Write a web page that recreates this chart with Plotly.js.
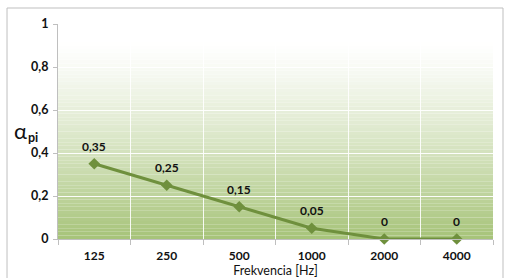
<!DOCTYPE html>
<html><head><meta charset="utf-8">
<script src="https://cdn.plot.ly/plotly-3.0.1.min.js"></script>
<style>html,body{margin:0;padding:0;background:#fff;}#c{width:505px;height:278px;}</style>
</head><body><div id="c"></div>
<script>
const categories = ['125','250','500','1000','2000','4000'];
const values = [0.35, 0.25, 0.15, 0.05, 0, 0];
const valueLabels = ['0,35','0,25','0,15','0,05','0','0'];

const FONT = 'Lato, "Open Sans", sans-serif';
const shapes = [];
const N = 60;
const bottom = [166,195,120];
for (let i = 0; i < N; i++) {
  const v0 = i / N, v1 = (i + 1) / N;
  let t = 1 - (v0 + v1) / 2;
  t = Math.max(0, (t - 0.08) / 0.92);
  t = Math.pow(t, 1.25);
  const c = [0,1,2].map(k => Math.round(255 + (bottom[k] - 255) * t));
  shapes.push({type:'rect', xref:'paper', yref:'y', x0:0, x1:1, y0:v0, y1:v1,
    fillcolor:`rgb(${c[0]},${c[1]},${c[2]})`, line:{width:0}, layer:'below'});
}
shapes.push({type:'rect', xref:'paper', yref:'paper', x0:-0.1172, x1:1.023, y0:-0.3, y1:1.0744,
  line:{color:'#bfbfbf', width:1}, fillcolor:'rgba(0,0,0,0)', layer:'above'});

const trace = {
  x: categories, y: values, type:'scatter', mode:'lines+markers',
  line:{color:'#6f903d', width:3},
  marker:{symbol:'diamond', size:9, color:'#6f903d'},
  cliponaxis:false, hoverinfo:'skip'
};

// category axis: annotations use the category index
const labelAnns = categories.map((c, i) => ({
  x: i, y: values[i], xref:'x', yref:'y', text: valueLabels[i], showarrow:false,
  yanchor:'bottom', yshift:8, font:{family:FONT, size:12, color:'#111', weight:'bold'}
}));

const layout = {
  width:505, height:278,
  margin:{l:58, r:12, t:24, b:39},
  paper_bgcolor:'#ffffff', plot_bgcolor:'rgba(0,0,0,0)',
  separators:', ',
  showlegend:false,
  font:{family:FONT, color:'#111'},
  xaxis:{type:'category', tickson:'boundaries', ticks:'outside', ticklen:5, tickcolor:'#bfbfbf',
    showline:true, linecolor:'#bfbfbf', linewidth:1, showgrid:true, gridcolor:'rgba(255,255,255,0.9)', gridwidth:1,
    tickfont:{family:FONT, size:12, color:'#111', weight:'bold'}, ticklabelstandoff:6,
    title:{text:'Frekvencia [Hz]', font:{family:FONT, size:12.5, color:'#111'}, standoff:0},
    range:[-0.5,5.5], fixedrange:true},
  yaxis:{range:[0,1], dtick:0.2, ticks:'outside', ticklen:4, tickcolor:'#bfbfbf',
    showline:true, linecolor:'#bfbfbf', linewidth:1, showgrid:true, gridcolor:'rgba(255,255,255,0.95)', gridwidth:1,
    zeroline:false, tickfont:{family:FONT, size:12.5, color:'#111', weight:'bold'}, ticklabelstandoff:2, fixedrange:true},
  shapes: shapes,
  annotations: labelAnns.concat([
    {xref:'paper', yref:'paper', x:-0.066, y:0.505, xanchor:'right', yanchor:'middle',
     text:'α', showarrow:false, font:{family:FONT, size:22, color:'#111'}},
    {xref:'paper', yref:'paper', x:-0.072, y:0.472, xanchor:'left', yanchor:'middle',
     text:'pi', showarrow:false, borderpad:0, font:{family:FONT, size:12.5, color:'#111', weight:'bold'}}
  ])
};
Plotly.newPlot('c', [trace], layout, {displayModeBar:false, staticPlot:true});
</script></body></html>
